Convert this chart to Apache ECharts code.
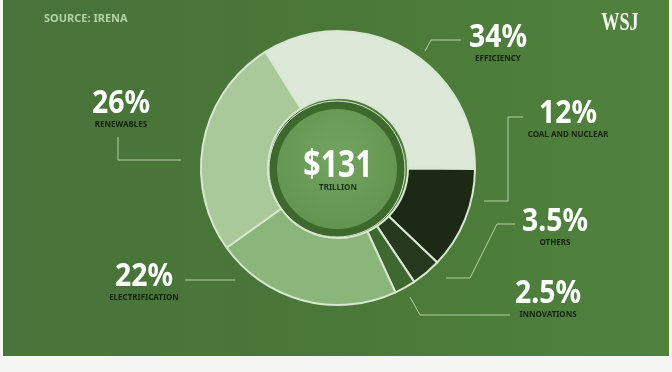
<!DOCTYPE html>
<html><head><meta charset="utf-8">
<script src="https://cdn.jsdelivr.net/npm/echarts@6/dist/echarts.min.js"></script>
<style>html,body{margin:0;padding:0;background:#f5f6f3}#c{width:672px;height:372px}</style>
</head><body><div id="c"></div>
<script>
// ---- data ----
const categories = ['Efficiency', 'Coal and nuclear', 'Others', 'Innovations', 'Electrification', 'Renewables'];
const shares = [34, 12, 3.5, 2.5, 22, 26];
const labelNames = ['EFFICIENCY', 'COAL AND NUCLEAR', 'OTHERS', 'INNOVATIONS', 'ELECTRIFICATION', 'RENEWABLES'];
const totalLabel = '$131';
const totalUnit = 'TRILLION';
const sourceText = 'SOURCE: IRENA';
const brandText = 'WSJ';

// ---- styling / layout (not data) ----
const sliceColors = ['#dde9d8', '#1b2915', '#26391f', '#3f6830', '#8ab779', '#a9c99b'];
const labelPos = [[498, 38], [568, 114], [555, 222], [548, 294], [144, 277], [121, 104]];
const leaderLines = [
  [[425, 51], [431, 40], [461, 40]],
  [[523, 117], [508, 117], [508, 201], [484, 201]],
  [[515, 224], [497, 224], [470, 278], [446, 278]],
  [[410, 297], [420, 315], [510, 315]],
  [[185, 280], [235, 280]],
  [[118, 137], [118, 160], [181, 160]]
];
const CX = 338, CY = 168;

const chart = echarts.init(document.getElementById('c'), null, {renderer: 'canvas'});

const graphics = [
  {type: 'rect', z: -10, shape: {x: 3, y: 0, width: 666, height: 356},
   style: {fill: new echarts.graphic.LinearGradient(0, 0, 1, 0, [
     {offset: 0, color: '#48733a'}, {offset: 0.5, color: '#4a7838'}, {offset: 1, color: '#50823e'}])}},
  {type: 'circle', z: 5, shape: {cx: CX - 1, cy: CY + 1, r: 68}, style: {fill: '#3d692d', stroke: '#d9e8d1', lineWidth: 1}},
  {type: 'circle', z: 5, shape: {cx: CX - 1, cy: CY + 1, r: 60},
   style: {fill: new echarts.graphic.RadialGradient(0.5, 0.4, 0.6, [
     {offset: 0, color: '#73a360'}, {offset: 1, color: '#639450'}])}},
  {type: 'text', z: 10, x: CX, y: CY - 2, scaleX: 0.82,
   style: {text: totalLabel, font: 'bold 37px "Noto Sans"', fill: '#ffffff', align: 'center', verticalAlign: 'middle'}},
  {type: 'text', z: 10, x: CX, y: CY + 20,
   style: {text: totalUnit, font: 'bold 8px "Noto Sans"', fill: '#1c3016', align: 'center', verticalAlign: 'middle'}},
  {type: 'text', z: 10, x: 44, y: 19,
   style: {text: sourceText, font: 'bold 11px "Noto Sans"', fill: '#b6d1a7', align: 'left', verticalAlign: 'middle'}},
  {type: 'text', z: 10, x: 620, y: 23, scaleX: 0.7,
   style: {text: brandText, font: 'bold 26px "Liberation Serif"', fill: '#f0f3ec', align: 'center', verticalAlign: 'middle'}}
];

shares.forEach((v, i) => {
  const [x, y] = labelPos[i];
  graphics.push({type: 'text', z: 10, x: x, y: y, scaleX: 0.86,
    style: {text: v + '%', font: 'bold 33px "Noto Sans"', fill: '#ffffff', align: 'center', verticalAlign: 'middle'}});
  graphics.push({type: 'text', z: 10, x: x, y: y + 20.5,
    style: {text: labelNames[i], font: 'bold 8px "Noto Sans"', fill: '#15220f', align: 'center', verticalAlign: 'middle'}});
  graphics.push({type: 'polyline', z: 10, shape: {points: leaderLines[i]},
    style: {stroke: '#b4d0a6', lineWidth: 1, fill: null}});
});

chart.setOption({
  backgroundColor: '#f5f6f3',
  animation: false,
  graphic: {elements: graphics},
  series: [{
    type: 'pie',
    center: [CX, CY],
    radius: [70, 137],
    startAngle: 122,
    clockwise: true,
    silent: true,
    label: {show: false},
    labelLine: {show: false},
    itemStyle: {borderColor: '#d8e7d0', borderWidth: 2},
    data: categories.map((c, i) => ({name: c, value: shares[i], itemStyle: {color: sliceColors[i]}}))
  }]
});
</script>
</body></html>
